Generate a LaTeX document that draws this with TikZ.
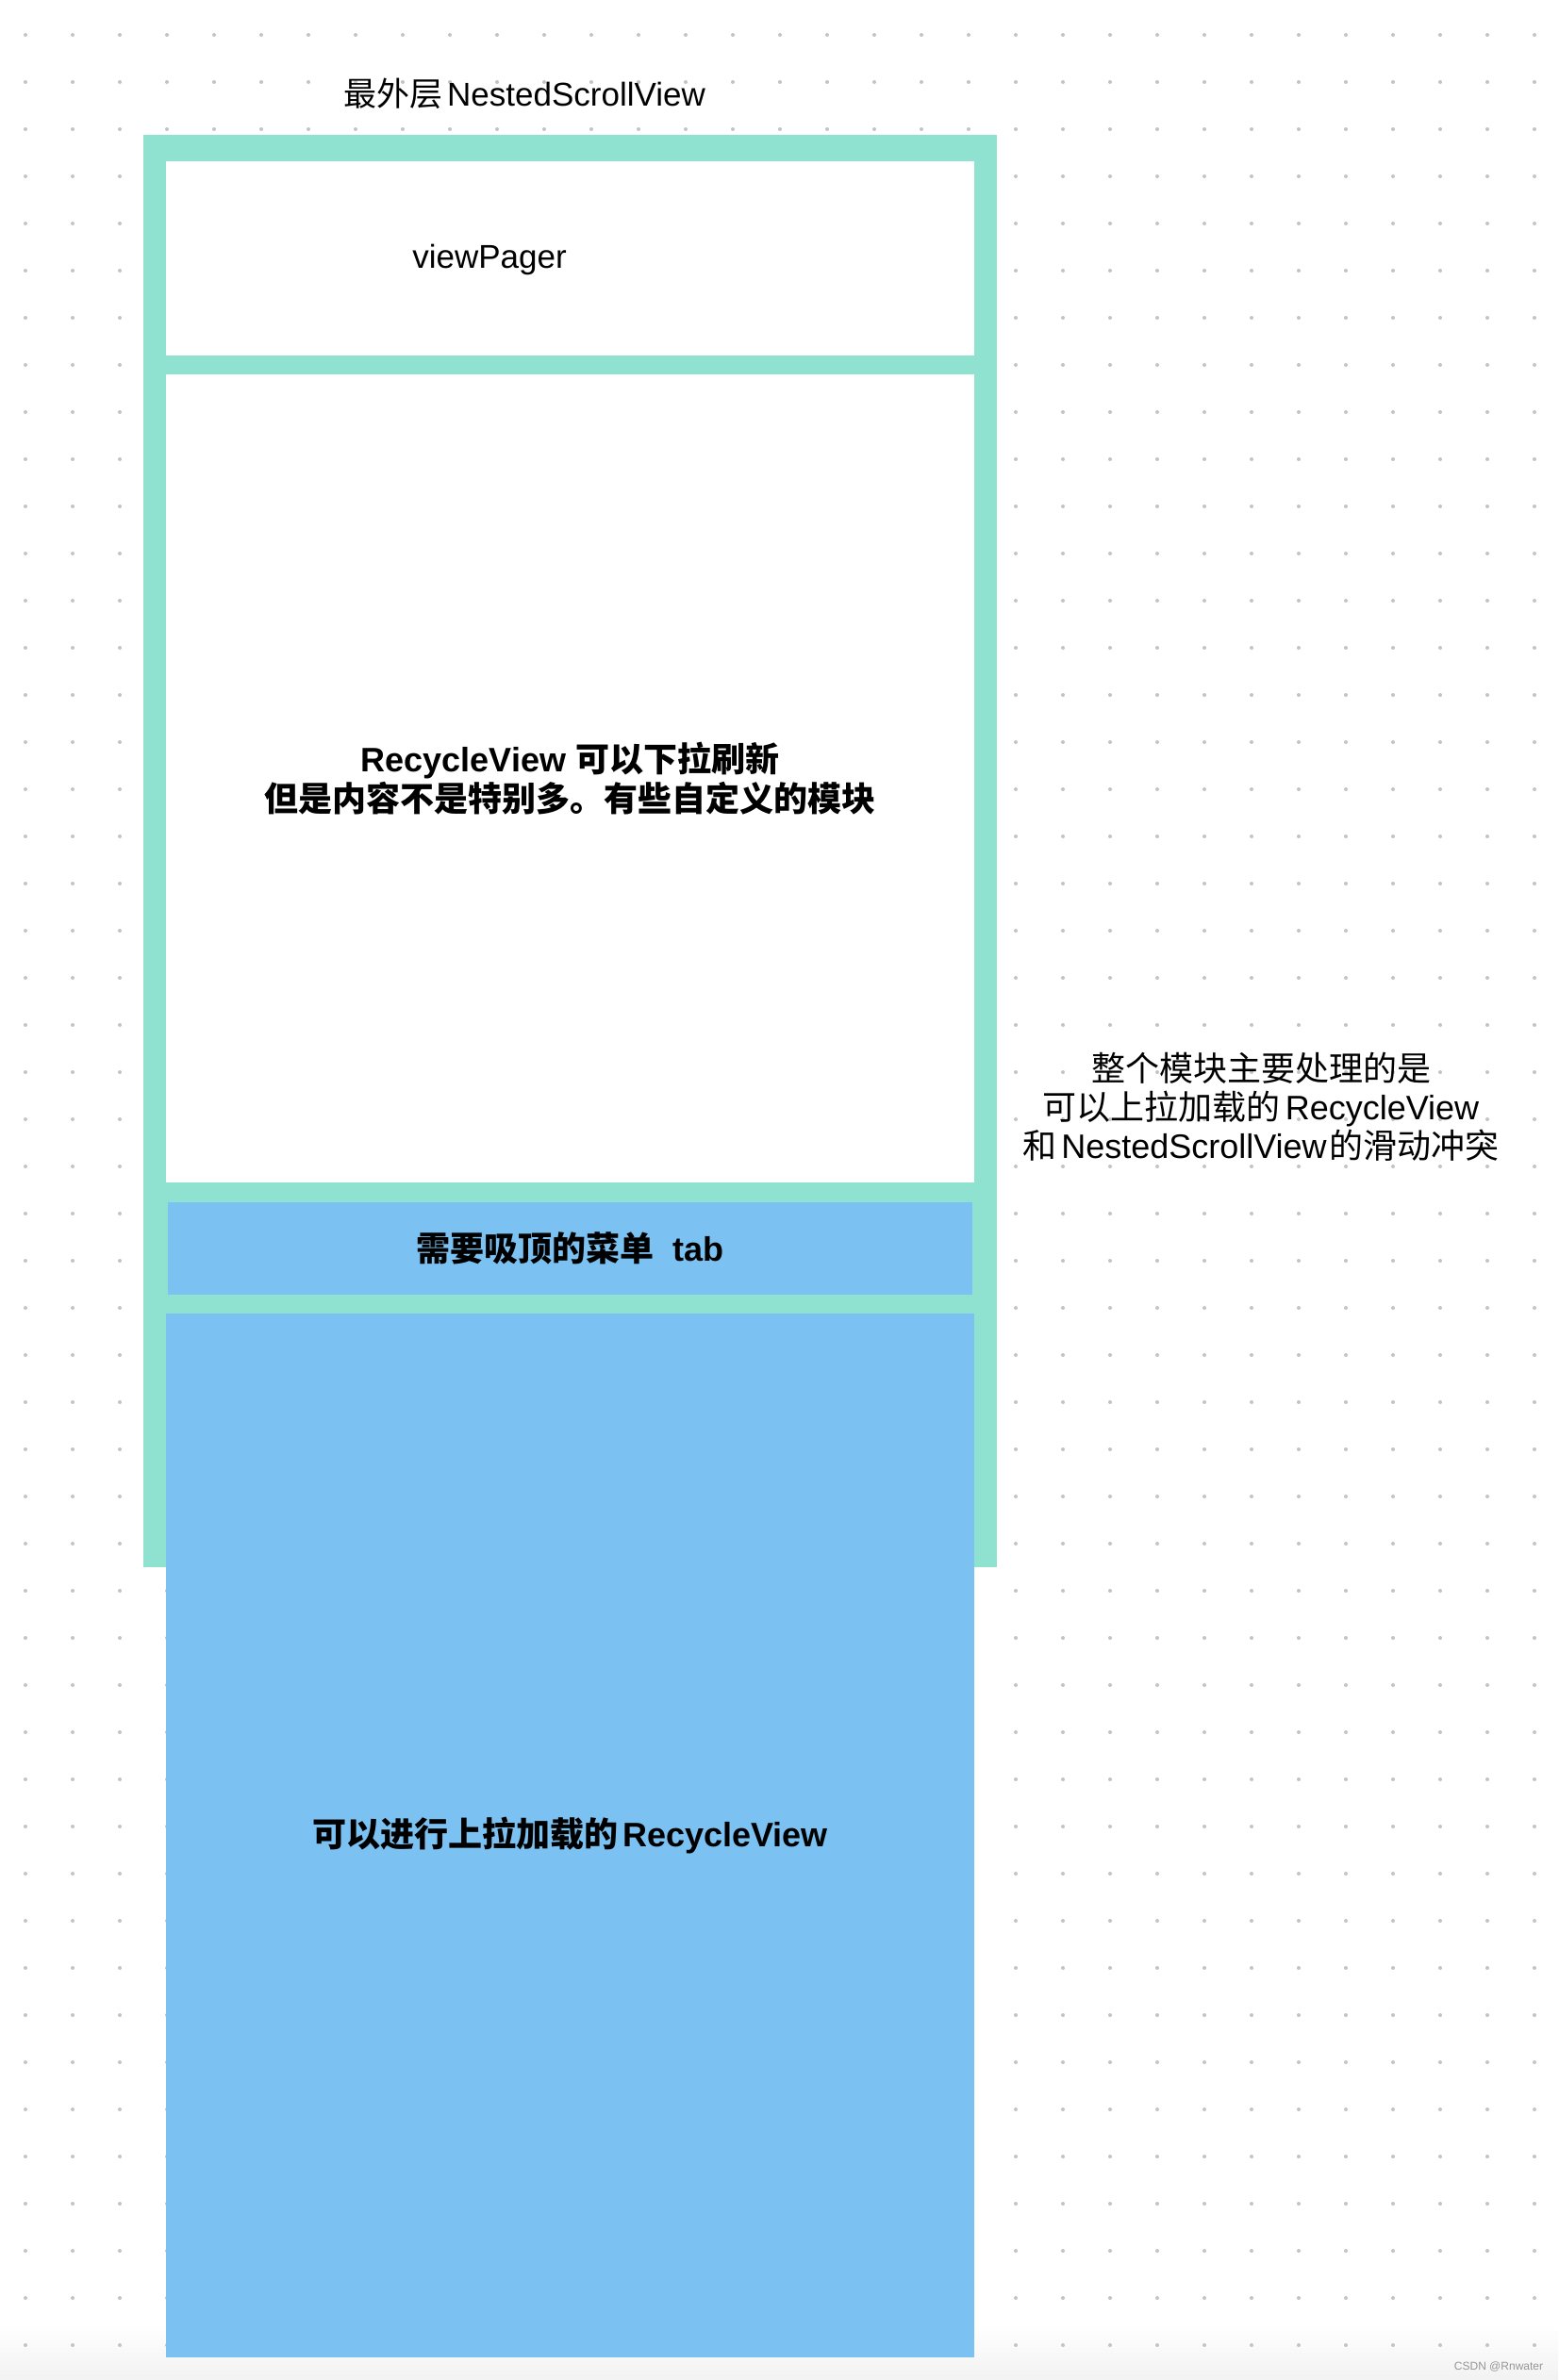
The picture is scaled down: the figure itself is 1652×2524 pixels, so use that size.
\documentclass[tikz,border=0pt]{standalone}
\usepackage{fontspec}
\setmainfont{Liberation Sans}
\newfontfamily\cjk{Noto Sans CJK SC}
\newcommand\zh[1]{{\cjk #1}}
\newcommand\gap{\hspace{5pt}}
\definecolor{frameteal}{RGB}{143,225,208}
\definecolor{boxblue}{RGB}{123,193,241}
\definecolor{dotgray}{RGB}{196,196,196}
\definecolor{wmgray}{RGB}{150,150,150}
\definecolor{barbottom}{RGB}{242,242,242}
\tikzset{
  panel/.style={anchor=north west, inner sep=0pt, outer sep=0pt, draw=none},
  whitebox/.style={panel, fill=white},
  bluebox/.style={panel, fill=boxblue, align=center, text=black,
    font=\fontsize{36}{42}\selectfont\bfseries},
  label/.style={inner sep=0pt, text=black, align=center},
}
\begin{document}
\begin{tikzpicture}[x=1pt,y=-1pt]
\useasboundingbox (0,0) rectangle (1652,2524);
\fill[white] (0,0) rectangle (1652,2524);
% bottom grey bar
\shade[top color=white, bottom color=barbottom] (0,2465) rectangle (1652,2524);
% dot grid
\foreach \i in {0,...,32} {
  \foreach \j in {0,...,49} {
    \fill[dotgray] (27+50*\i, 37+50*\j) circle[radius=2];
  }
}
% outer NestedScrollView frame
\node[panel, fill=frameteal, minimum width=905pt, minimum height=1519pt] (outer) at (152,143) {};
% viewPager
\node[whitebox, minimum width=857pt, minimum height=206pt] (vp) at (176,171) {};
% recycle view (pull to refresh)
\node[whitebox, minimum width=857pt, minimum height=857pt, align=center,
  font=\fontsize{36}{42}\selectfont\bfseries] (rv) at (176,397)
  {RecycleView \zh{可以下拉刷新}\\\zh{但是内容不是特别多。有些自定义的模块}};
% sticky tab
\node[bluebox, minimum width=853pt, minimum height=98pt] (tab) at (178,1275)
  {\zh{需要吸顶的菜单}\ \ tab};
% bottom recycle view
\node[bluebox, minimum width=857pt, minimum height=1107pt] (lr) at (176,1393)
  {\zh{可以进行上拉加载的}\gap RecycleView};
% labels
\node[label, font=\fontsize{35}{42}\selectfont] (title) at (556,99)
  {\zh{最外层}\gap NestedScrollView};
\node[label, font=\fontsize{35}{42}\selectfont] (vplabel) at (519,275) {viewPager};
\node[label, font=\fontsize{36}{41}\selectfont] (note) at (1337,1174)
  {\zh{整个模块主要处理的是}\\\zh{可以上拉加载的}\gap RecycleView\\\zh{和}\gap NestedScrollView\hspace{3pt}\zh{的滑动冲突}};
\node[label, text=wmgray, font=\fontsize{12}{14}\selectfont] (wm) at (1589,2510) {CSDN @Rnwater};
\end{tikzpicture}
\end{document}
